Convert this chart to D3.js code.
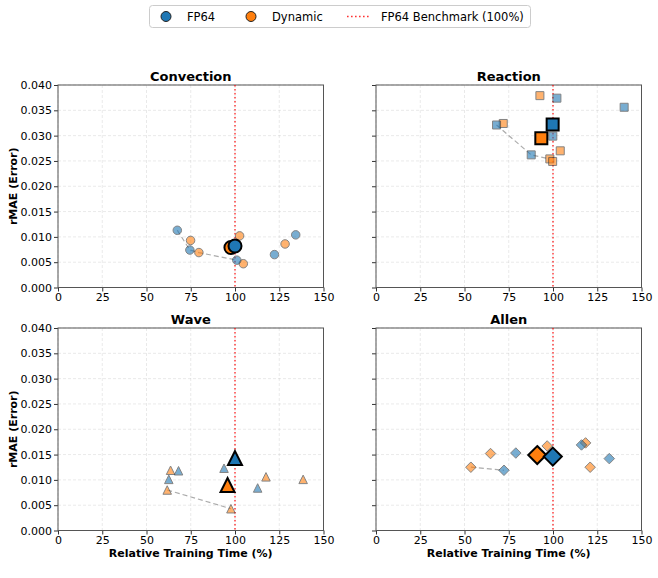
<!DOCTYPE html>
<html>
<head>
<meta charset="utf-8">
<script src="https://cdn.jsdelivr.net/npm/d3@7"></script>
<style>
  body { margin: 0; background: #fff; }
  text { font-family: "DejaVu Sans", sans-serif; fill: #000; }
</style>
</head>
<body>
<svg id="chart"></svg>
<script>
// ---- data (relative training time %, rMAE) ----
const xTicks = [0, 25, 50, 75, 100, 125, 150];
const yTicks = [0, 0.005, 0.010, 0.015, 0.020, 0.025, 0.030, 0.035, 0.040];
const benchmark = 100;

const convectionFp64 = [[67.4, 0.0113], [74.5, 0.0074], [101, 0.0054], [122.3, 0.0065], [134.3, 0.0104]];
const convectionDynamic = [[74.9, 0.0093], [79.6, 0.0069], [102.6, 0.0102], [104.7, 0.0047], [128.3, 0.0086]];
const convectionMain = [[97.7, 0.0079], [100, 0.0082]];   // [dynamic, fp64]
const convectionFront = [[67.4, 0.0113], [74.5, 0.0074], [79.6, 0.0069], [101, 0.0054]];

const reactionFp64 = [[102.2, 0.0374], [140.2, 0.0356], [68.1, 0.0321], [99.9, 0.0299], [87.7, 0.0262]];
const reactionDynamic = [[92.6, 0.0379], [71.9, 0.0324], [104.1, 0.0270], [98.2, 0.0254], [99.8, 0.0249]];
const reactionMain = [[93.4, 0.0295], [99.8, 0.0322]];
const reactionFront = [[68.1, 0.0321], [87.7, 0.0262], [98.2, 0.0254]];

const waveFp64 = [[93.8, 0.0123], [68.1, 0.0118], [62.6, 0.0101], [112.8, 0.0084]];
const waveDynamic = [[63.6, 0.0119], [61.7, 0.0080], [97.7, 0.0043], [117.5, 0.0106], [138.5, 0.0101]];
const waveMain = [[95.8, 0.0090], [100, 0.0143]];
const waveFront = [[61.7, 0.0080], [97.7, 0.0043]];

const allenFp64 = [[72.3, 0.0119], [79.0, 0.0153], [116.1, 0.0169], [131.8, 0.0142]];
const allenDynamic = [[53.6, 0.0125], [64.7, 0.0152], [96.7, 0.0167], [118.4, 0.0173], [121.0, 0.0125]];
const allenMain = [[91.1, 0.0149], [99.9, 0.0146]];
const allenFront = [[53.6, 0.0125], [72.3, 0.0119]];

const colors = { fp64: '#1f77b4', dynamic: '#ff7f0e' };

// custom symbols, size = outer width in px
const shapes = {
    circle: { draw(ctx, s) { const r = s / 2; ctx.moveTo(r, 0); ctx.arc(0, 0, r, 0, 2 * Math.PI); } },
    square: { draw(ctx, s) { const h = s / 2; ctx.rect(-h, -h, s, s); } },
    triangle: { draw(ctx, s) { const h = s / 2; ctx.moveTo(0, -h); ctx.lineTo(h, h); ctx.lineTo(-h, h); ctx.closePath(); } },
    diamond: { draw(ctx, s) { const h = s / 2; ctx.moveTo(0, -h); ctx.lineTo(h, 0); ctx.lineTo(0, h); ctx.lineTo(-h, 0); ctx.closePath(); } }
};

const panels = [
    { title: 'Convection', shape: 'circle', small: 8.5, big: 13, fp64: convectionFp64, dyn: convectionDynamic, main: convectionMain, front: convectionFront, col: 0, row: 0 },
    { title: 'Reaction', shape: 'square', small: 8, big: 12, fp64: reactionFp64, dyn: reactionDynamic, main: reactionMain, front: reactionFront, col: 1, row: 0 },
    { title: 'Wave', shape: 'triangle', small: 8.5, big: 14, fp64: waveFp64, dyn: waveDynamic, main: waveMain, front: waveFront, col: 0, row: 1 },
    { title: 'Allen', shape: 'diamond', small: 10.5, big: 18, fp64: allenFp64, dyn: allenDynamic, main: allenMain, front: allenFront, col: 1, row: 1 }
];

const W = 658, H = 578;
const colX = [58, 376], rowY = [85, 328];
const pw = 265.5, ph = 202.5;

const svg = d3.select('#chart').attr('width', W).attr('height', H);

panels.forEach(p => {
    const g = svg.append('g')
        .attr('transform', `translate(${colX[p.col]}, ${rowY[p.row]})`);

    const xscale = d3.scaleLinear().domain([0, 150]).range([0, pw]);
    const yscale = d3.scaleLinear().domain([0, 0.04]).range([ph, 0]);

    // grid
    g.append('g').selectAll('line').data(xTicks).join('line')
        .attr('x1', d => xscale(d)).attr('x2', d => xscale(d))
        .attr('y1', 0).attr('y2', ph)
        .attr('stroke', '#b0b0b0').attr('stroke-opacity', 0.35)
        .attr('stroke-dasharray', '3,2').attr('stroke-width', 0.8);
    g.append('g').selectAll('line').data(yTicks).join('line')
        .attr('x1', 0).attr('x2', pw)
        .attr('y1', d => yscale(d)).attr('y2', d => yscale(d))
        .attr('stroke', '#b0b0b0').attr('stroke-opacity', 0.35)
        .attr('stroke-dasharray', '3,2').attr('stroke-width', 0.8);

    // axes
    const xaxis = d3.axisBottom(xscale).tickValues(xTicks).tickSize(4).tickPadding(2).tickFormat(d3.format('d'));
    const yaxis = d3.axisLeft(yscale).tickValues(yTicks).tickSize(4).tickPadding(2)
        .tickFormat(p.col === 0 ? d3.format('.3f') : '');

    const xg = g.append('g').attr('transform', `translate(0, ${ph})`).call(xaxis);
    const yg = g.append('g').call(yaxis);
    [xg, yg].forEach(a => {
        a.select('.domain').remove();
        a.selectAll('line').attr('stroke', '#333');
        a.selectAll('text').attr('font-size', 11).attr('font-family', 'DejaVu Sans').attr('fill', '#000');
    });

    g.append('rect')
        .attr('width', pw).attr('height', ph)
        .attr('fill', 'none').attr('stroke', '#555').attr('stroke-width', 1);

    // benchmark line
    g.append('line')
        .attr('x1', xscale(benchmark)).attr('x2', xscale(benchmark))
        .attr('y1', 0).attr('y2', ph)
        .attr('stroke', 'red').attr('stroke-opacity', 0.7)
        .attr('stroke-width', 1.6).attr('stroke-dasharray', '1.6,2.4');

    // frontier
    const line = d3.line().x(d => xscale(d[0])).y(d => yscale(d[1]));
    g.append('path')
        .attr('d', line(p.front))
        .attr('fill', 'none').attr('stroke', '#888').attr('stroke-opacity', 0.7)
        .attr('stroke-width', 1.2).attr('stroke-dasharray', '5,3');

    // small points
    const small = d3.symbol(shapes[p.shape], p.small);
    [['dyn', colors.dynamic], ['fp64', colors.fp64]].forEach(([k, c]) => {
        g.append('g').selectAll('path').data(p[k]).join('path')
            .attr('d', small)
            .attr('transform', d => `translate(${xscale(d[0])}, ${yscale(d[1])})`)
            .attr('fill', c).attr('stroke', '#333').attr('stroke-width', 1)
            .attr('opacity', 0.6);
    });

    // main (mean) points
    const big = d3.symbol(shapes[p.shape], p.big);
    g.append('g').selectAll('path').data(p.main).join('path')
        .attr('d', big)
        .attr('transform', d => `translate(${xscale(d[0])}, ${yscale(d[1])})`)
        .attr('fill', (d, i) => i === 0 ? colors.dynamic : colors.fp64)
        .attr('stroke', '#000').attr('stroke-width', 2)
        .attr('stroke-linejoin', 'miter');

    // title + labels
    g.append('text')
        .attr('x', pw / 2).attr('y', -4.5)
        .attr('text-anchor', 'middle')
        .attr('font-size', 13).attr('font-weight', 'bold')
        .text(p.title);

    if (p.row === 1) {
        g.append('text')
            .attr('x', pw / 2).attr('y', ph + 26.5)
            .attr('text-anchor', 'middle')
            .attr('font-size', 11).attr('font-weight', 'bold')
            .text('Relative Training Time (%)');
    }
    if (p.col === 0) {
        g.append('text')
            .attr('transform', `translate(${17 - colX[0]}, ${ph / 2}) rotate(-90)`)
            .attr('text-anchor', 'middle')
            .attr('font-size', 11).attr('font-weight', 'bold')
            .text('rMAE (Error)');
    }
});

// legend
const legend = svg.append('g');
legend.append('rect')
    .attr('x', 149.5).attr('y', 5.5).attr('width', 381).attr('height', 22)
    .attr('rx', 3).attr('fill', '#fff').attr('stroke', '#ccc').attr('stroke-width', 1);

const legendItems = [
    { label: 'FP64', color: colors.fp64, x: 166 },
    { label: 'Dynamic', color: colors.dynamic, x: 251 }
];
legendItems.forEach(it => {
    legend.append('circle')
        .attr('cx', it.x).attr('cy', 16.5).attr('r', 5)
        .attr('fill', it.color).attr('stroke', '#222').attr('stroke-width', 1);
    legend.append('text')
        .attr('x', it.x + 21).attr('y', 20.5)
        .attr('font-size', 11.5)
        .text(it.label);
});
legend.append('line')
    .attr('x1', 347).attr('x2', 370).attr('y1', 16.5).attr('y2', 16.5)
    .attr('stroke', 'red').attr('stroke-opacity', 0.8)
    .attr('stroke-width', 1.6).attr('stroke-dasharray', '1.6,2.4');
legend.append('text')
    .attr('x', 381).attr('y', 20.5)
    .attr('font-size', 11.5)
    .text('FP64 Benchmark (100%)');
</script>
</body>
</html>
